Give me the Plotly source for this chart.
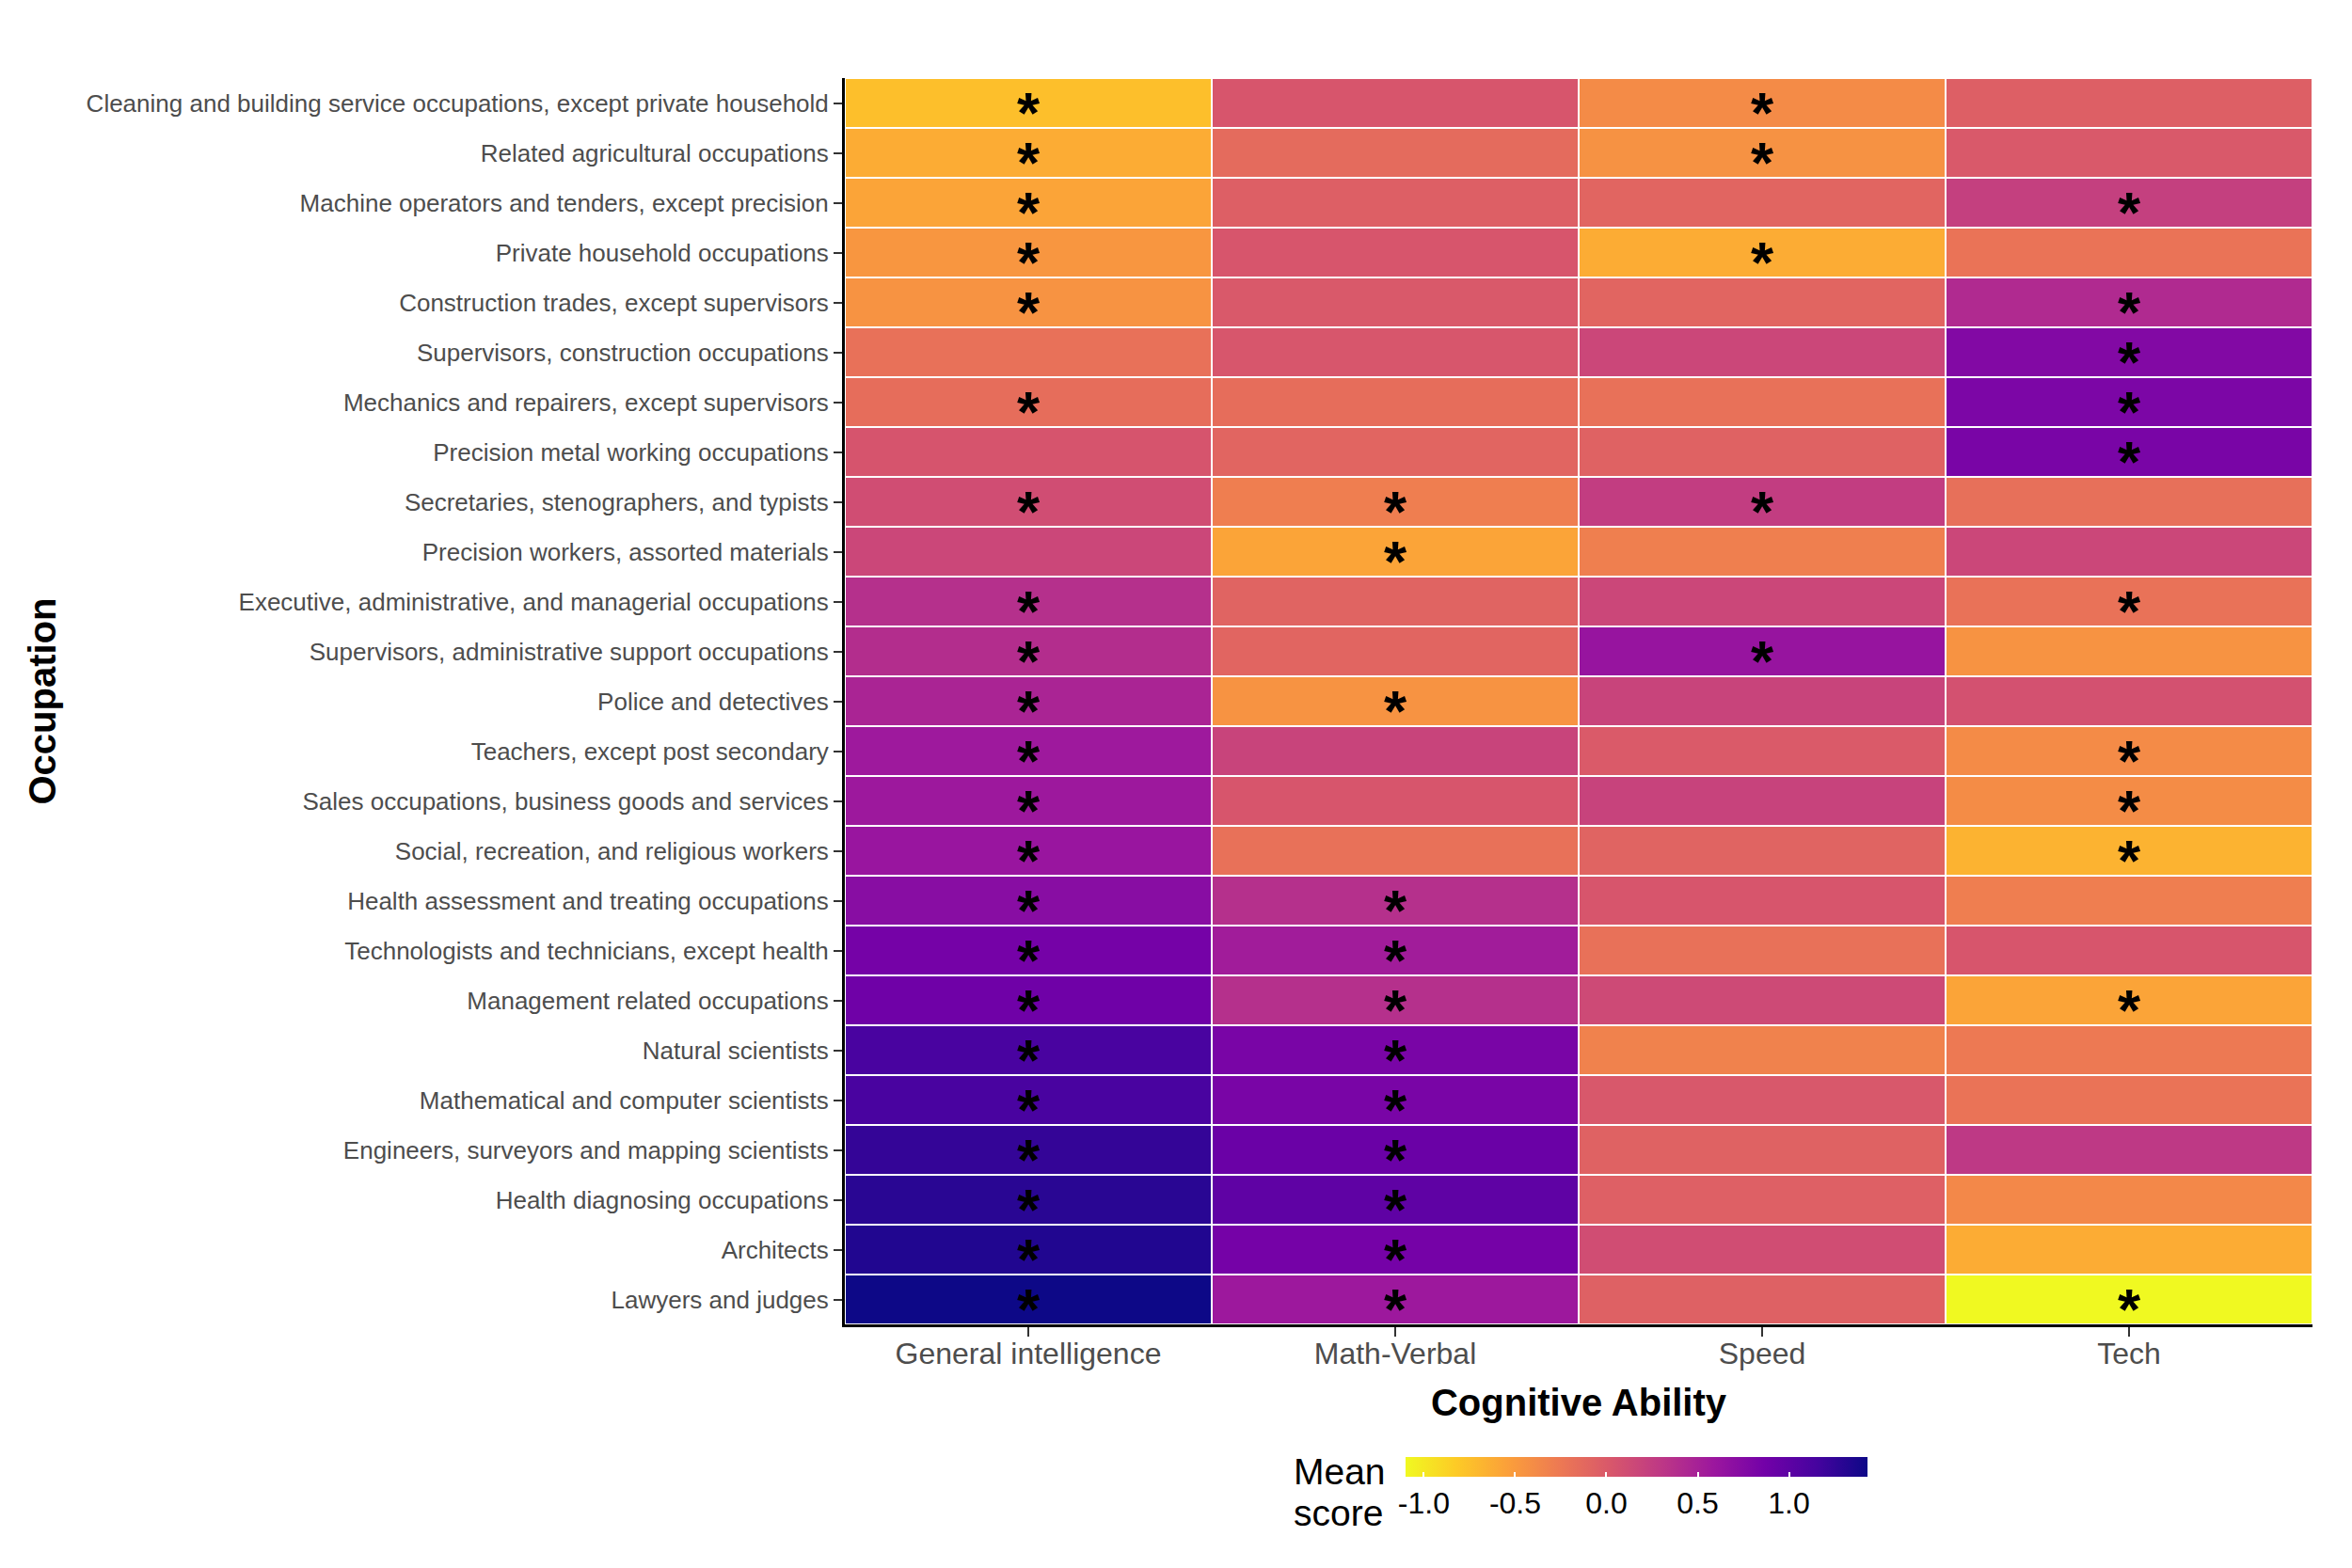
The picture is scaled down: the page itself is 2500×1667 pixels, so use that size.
import plotly.graph_objects as go

occupations = [
    "Cleaning and building service occupations, except private household",
    "Related agricultural occupations",
    "Machine operators and tenders, except precision",
    "Private household occupations",
    "Construction trades, except supervisors",
    "Supervisors, construction occupations",
    "Mechanics and repairers, except supervisors",
    "Precision metal working occupations",
    "Secretaries, stenographers, and typists",
    "Precision workers, assorted materials",
    "Executive, administrative, and managerial occupations",
    "Supervisors, administrative support occupations",
    "Police and detectives",
    "Teachers, except post secondary",
    "Sales occupations, business goods and services",
    "Social, recreation, and religious workers",
    "Health assessment and treating occupations",
    "Technologists and technicians, except health",
    "Management related occupations",
    "Natural scientists",
    "Mathematical and computer scientists",
    "Engineers, surveyors and mapping scientists",
    "Health diagnosing occupations",
    "Architects",
    "Lawyers and judges",
]
abilities = ["General intelligence", "Math-Verbal", "Speed", "Tech"]

general = [-0.75, -0.62, -0.57, -0.47, -0.45, -0.19, -0.16, 0.05, 0.11, 0.165,
           0.37, 0.39, 0.47, 0.57, 0.58, 0.61, 0.72, 0.85, 0.89, 1.13,
           1.13, 1.24, 1.29, 1.33, 1.43]
math_verbal = [0.04, -0.14, -0.04, 0.04, 0.01, 0.03, -0.16, -0.09, -0.29, -0.57,
               -0.08, -0.09, -0.45, 0.19, 0.04, -0.19, 0.37, 0.545, 0.37, 0.82,
               0.82, 0.92, 0.99, 0.85, 0.58]
speed = [-0.39, -0.44, -0.09, -0.62, -0.09, 0.165, -0.19, -0.07, 0.25, -0.30,
         0.165, 0.62, 0.19, 0.0, 0.20, -0.08, 0.04, -0.19, 0.14, -0.32,
         0.02, -0.07, -0.05, 0.11, -0.06]
tech = [-0.04, 0.01, 0.23, -0.21, 0.42, 0.76, 0.80, 0.82, -0.18, 0.165,
        -0.20, -0.45, 0.08, -0.39, -0.40, -0.67, -0.29, 0.04, -0.57, -0.26,
        -0.21, 0.29, -0.37, -0.62, -1.10]

sig_general = [1, 1, 1, 1, 1, 0, 1, 0, 1, 0, 1, 1, 1, 1, 1, 1, 1, 1, 1, 1, 1, 1, 1, 1, 1]
sig_math_verbal = [0, 0, 0, 0, 0, 0, 0, 0, 1, 1, 0, 0, 1, 0, 0, 0, 1, 1, 1, 1, 1, 1, 1, 1, 1]
sig_speed = [1, 1, 0, 1, 0, 0, 0, 0, 1, 0, 0, 1, 0, 0, 0, 0, 0, 0, 0, 0, 0, 0, 0, 0, 0]
sig_tech = [0, 0, 1, 0, 1, 1, 1, 1, 0, 0, 1, 0, 0, 1, 1, 1, 0, 0, 1, 0, 0, 0, 0, 0, 1]

cb_ticks = [-1.0, -0.5, 0.0, 0.5, 1.0]
cb_ticktext = ["-1.0", "-0.5", "0.0", "0.5", "1.0"]

FONT = "Liberation Sans"

series = [general, math_verbal, speed, tech]
sigs = [sig_general, sig_math_verbal, sig_speed, sig_tech]
z = [[s[i] for s in series] for i in range(len(occupations))]

W, H = 2500, 1667
L, R, T, B = 898, 42, 83, 259
plot_w = W - L - R
plot_h = H - T - B

fig = go.Figure()
fig.add_trace(go.Heatmap(
    z=z, x=abilities, y=occupations,
    colorscale="Plasma", reversescale=True,
    xgap=2, ygap=2,
    colorbar=dict(
        orientation="h",
        lenmode="pixels", len=491,
        thickness=21,
        x=(1739.5 - L) / plot_w, xanchor="center",
        y=(T + plot_h - 1549) / plot_h, yanchor="top",
        xpad=0, ypad=0,
        outlinewidth=0,
        tickvals=cb_ticks,
        ticktext=cb_ticktext,
        ticks="inside", ticklen=5, tickcolor="white", tickwidth=2,
        tickfont=dict(family=FONT, size=32, color="black"),
    ),
    hoverongaps=False,
))

for j, ab in enumerate(abilities):
    for i, occ in enumerate(occupations):
        if sigs[j][i]:
            fig.add_annotation(
                x=ab, y=occ, text="<b>*</b>", showarrow=False,
                font=dict(family=FONT, size=62, color="black"),
                xanchor="center", yanchor="middle", yshift=-10,
            )

fig.add_annotation(xref="paper", yref="paper",
                   x=(1373 - L) / plot_w, y=(T + plot_h - 1564) / plot_h,
                   text="Mean", showarrow=False, xanchor="left", yanchor="middle",
                   font=dict(family=FONT, size=39, color="black"))
fig.add_annotation(xref="paper", yref="paper",
                   x=(1373 - L) / plot_w, y=(T + plot_h - 1608) / plot_h,
                   text="score", showarrow=False, xanchor="left", yanchor="middle",
                   font=dict(family=FONT, size=39, color="black"))

fig.update_layout(
    width=W, height=H,
    margin=dict(l=L, r=R, t=T, b=B, pad=0),
    paper_bgcolor="white", plot_bgcolor="white",
    font=dict(family=FONT),
    xaxis=dict(
        range=[-0.5, len(abilities) - 0.5],
        showline=True, linecolor="black", linewidth=3,
        ticks="outside", ticklen=10, tickwidth=2, tickcolor="#333333",
        ticklabelstandoff=-9,
        tickfont=dict(family=FONT, size=32, color="#4D4D4D"),
        showgrid=False, zeroline=False,
        title=dict(text="<b>Cognitive Ability</b>", standoff=21,
                   font=dict(family=FONT, size=40, color="black")),
        automargin=False,
    ),
    yaxis=dict(
        range=[len(occupations) - 0.5, -0.5],
        showline=True, linecolor="black", linewidth=3,
        ticks="outside", ticklen=9, tickwidth=2, tickcolor="#333333",
        tickfont=dict(family=FONT, size=26, color="#4D4D4D"),
        showgrid=False, zeroline=False,
        title=dict(text="<b>Occupation</b>", standoff=20,
                   font=dict(family=FONT, size=40, color="black")),
        automargin=False,
    ),
)

fig.write_html("out.html")
